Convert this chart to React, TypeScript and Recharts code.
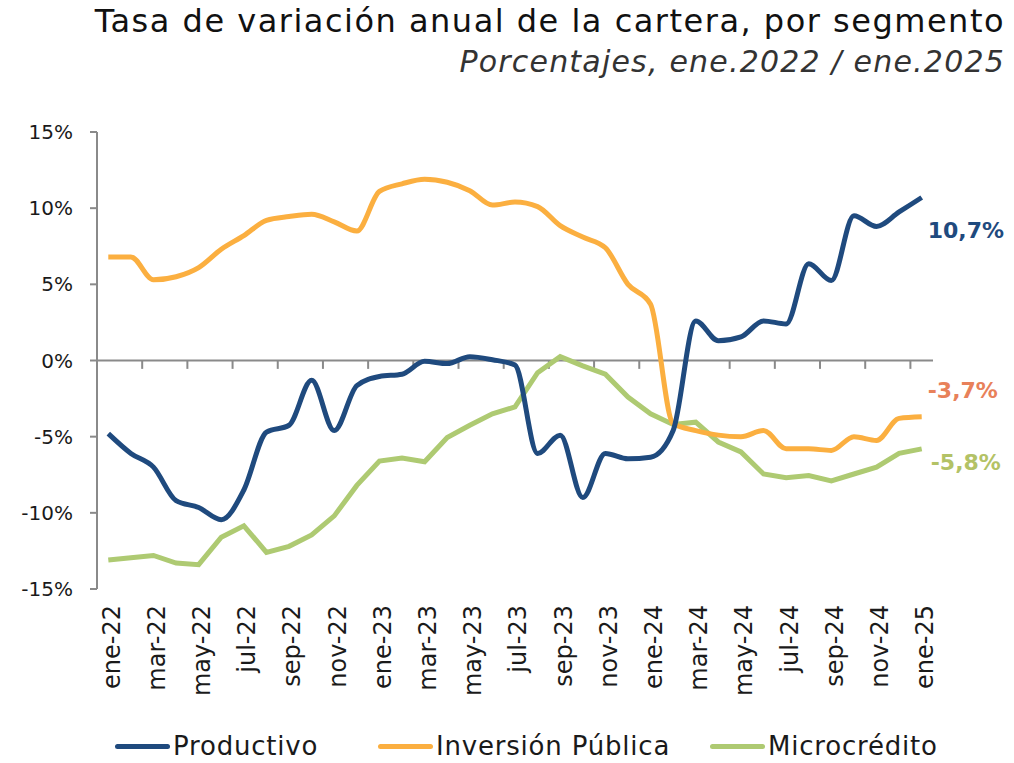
import React from "react";
import {
  LineChart,
  Line,
  XAxis,
  YAxis,
  ReferenceLine,
  LabelList,
} from "recharts";

const months = [
  "ene-22", "feb-22", "mar-22", "abr-22", "may-22", "jun-22", "jul-22", "ago-22", "sep-22", "oct-22", "nov-22", "dic-22",
  "ene-23", "feb-23", "mar-23", "abr-23", "may-23", "jun-23", "jul-23", "ago-23", "sep-23", "oct-23", "nov-23", "dic-23",
  "ene-24", "feb-24", "mar-24", "abr-24", "may-24", "jun-24", "jul-24", "ago-24", "sep-24", "oct-24", "nov-24", "dic-24",
  "ene-25",
];

const productivo = [
  -4.8, -6.1, -7.0, -9.2, -9.65, -10.45, -8.5, -4.7, -4.25, -1.3, -4.6, -1.65,
  -1.05, -0.9, -0.05, -0.2, 0.25, 0.05, -0.3, -6.1, -4.9, -9.0, -6.1, -6.45,
  -6.35, -4.6, 2.6, 1.3, 1.55, 2.6, 2.4, 6.35, 5.25, 9.5, 8.8, 9.75,
  10.7,
];

const inversionPublica = [
  6.8, 6.8, 5.3, 5.5, 6.1, 7.3, 8.2, 9.2, 9.45, 9.6, 9.1, 8.5,
  11.1, 11.6, 11.9, 11.7, 11.15, 10.2, 10.4, 10.1, 8.85, 8.1, 7.4, 5.0,
  3.7, -4.15, -4.6, -4.9, -5.0, -4.6, -5.8, -5.8, -5.9, -5.0, -5.25, -3.8,
  -3.7,
];

const microcredito = [
  -13.1, -12.95, -12.8, -13.3, -13.4, -11.6, -10.85, -12.6, -12.2, -11.45, -10.2, -8.2,
  -6.6, -6.4, -6.65, -5.05, -4.25, -3.5, -3.05, -0.8, 0.25, -0.35, -0.9, -2.4,
  -3.5, -4.2, -4.05, -5.35, -6.0, -7.45, -7.7, -7.55, -7.9, -7.45, -7.0, -6.1,
  -5.8,
];

const yTicks = [-15, -10, -5, 0, 5, 10, 15];
const xTicks = [0, 2, 4, 6, 8, 10, 12, 14, 16, 18, 20, 22, 24, 26, 28, 30, 32, 34, 36];
const boundaryTicks = [1.5, 3.5, 5.5, 7.5, 9.5, 11.5, 13.5, 15.5, 17.5, 19.5, 21.5, 23.5, 25.5, 27.5, 29.5, 31.5, 33.5, 35.5];

const data = months.map((m, i) => ({
  i,
  m,
  productivo: productivo[i],
  inversion: inversionPublica[i],
  micro: microcredito[i],
}));

const BLUE = "#1F4A7E";
const ORANGE = "#FBAF40";
const GREEN = "#AECA72";
const AXIS = "#8A8A8A";
const FONT = "'DejaVu Sans', sans-serif";

const fmt = (v: number) => v.toFixed(1).replace(".", ",") + "%";

function endLabel(color: string, dx: number, dy: number) {
  return (props: any) => {
    const { x, y, value, index } = props;
    if (index !== months.length - 1) return null;
    return (
      <text
        x={x + dx}
        y={y + dy}
        fill={color}
        fontFamily={FONT}
        fontSize={22}
        fontWeight={600}
      >
        {fmt(value)}
      </text>
    );
  };
}

function MonthTick(props: any) {
  const { x, y, payload } = props;
  return (
    <text
      transform={`translate(${x + 3},${y}) rotate(-90)`}
      textAnchor="end"
      dy="0.35em"
      fill="#1a1a1a"
      fontFamily={FONT}
      fontSize={24}
    >
      {months[payload.value]}
    </text>
  );
}

const legendItems = [
  { name: "Productivo", color: BLUE, left: 115 },
  { name: "Inversión Pública", color: ORANGE, left: 378 },
  { name: "Microcrédito", color: GREEN, left: 710 },
];

export default function App() {
  return (
    <div
      style={{
        position: "absolute",
        left: 0,
        top: 0,
        width: 1014,
        height: 763,
        background: "#fff",
        fontFamily: FONT,
      }}
    >
      <div
        style={{
          position: "absolute",
          right: 9,
          top: 2,
          fontSize: 32,
          letterSpacing: 1.5,
          color: "#111",
          whiteSpace: "nowrap",
        }}
      >
        Tasa de variación anual de la cartera, por segmento
      </div>
      <div
        style={{
          position: "absolute",
          right: 9,
          top: 44,
          fontSize: 30,
          letterSpacing: 1.2,
          fontStyle: "italic",
          color: "#333",
          whiteSpace: "nowrap",
        }}
      >
        Porcentajes, ene.2022 / ene.2025
      </div>

      <LineChart
        width={1014}
        height={763}
        data={data}
        margin={{ top: 132, right: 81, bottom: 44, left: 0 }}
      >
        <XAxis
          dataKey="i"
          type="number"
          domain={[-0.5, 36.5]}
          ticks={xTicks}
          interval={0}
          axisLine={false}
          tickLine={false}
          tick={<MonthTick />}
          tickMargin={0}
          tickSize={16}
          height={130}
        />
        <YAxis
          domain={[-15, 15]}
          ticks={yTicks}
          interval={0}
          width={97}
          tickFormatter={(v: number) => `${v}%`}
          axisLine={{ stroke: AXIS, strokeWidth: 2 }}
          tickLine={{ stroke: AXIS, strokeWidth: 2 }}
          tickSize={7}
          tickMargin={17}
          tick={{ fill: "#1a1a1a", fontSize: 20, fontFamily: FONT }}
        />
        <ReferenceLine y={0} stroke={AXIS} strokeWidth={2} />
        {boundaryTicks.map((b) => (
          <ReferenceLine
            key={b}
            segment={[
              { x: b, y: 0 },
              { x: b, y: -0.55 },
            ]}
            stroke={AXIS}
            strokeWidth={2}
          />
        ))}
        <Line
          type="linear"
          dataKey="micro"
          stroke={GREEN}
          strokeWidth={5}
          dot={false}
          isAnimationActive={false}
        >
          <LabelList dataKey="micro" content={endLabel("#B3C266", 9, 21)} />
        </Line>
        <Line
          type="monotone"
          dataKey="inversion"
          stroke={ORANGE}
          strokeWidth={5}
          dot={false}
          isAnimationActive={false}
        >
          <LabelList dataKey="inversion" content={endLabel("#E8815A", 6, -19)} />
        </Line>
        <Line
          type="monotone"
          dataKey="productivo"
          stroke={BLUE}
          strokeWidth={5}
          dot={false}
          isAnimationActive={false}
        >
          <LabelList dataKey="productivo" content={endLabel(BLUE, 6, 40)} />
        </Line>
      </LineChart>

      {legendItems.map((it) => (
        <div
          key={it.name}
          style={{
            position: "absolute",
            left: it.left,
            top: 731,
            display: "flex",
            alignItems: "center",
            fontSize: 26,
            letterSpacing: 0.8,
            color: "#1a1a1a",
            whiteSpace: "nowrap",
          }}
        >
          <span
            style={{
              display: "inline-block",
              width: 55,
              height: 5,
              borderRadius: 3,
              background: it.color,
              marginRight: 3,
            }}
          />
          {it.name}
        </div>
      ))}
    </div>
  );
}
